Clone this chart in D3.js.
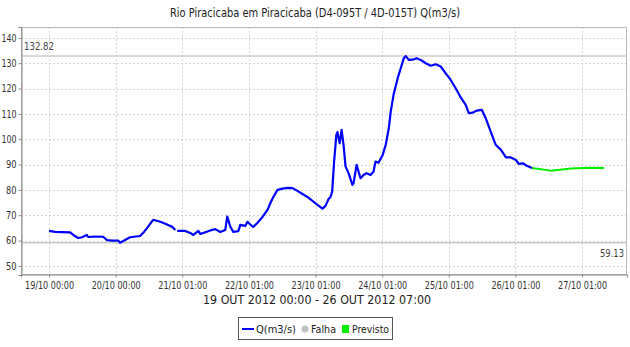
<!DOCTYPE html>
<html>
<head>
<meta charset="utf-8">
<script src="https://cdn.jsdelivr.net/npm/d3@7"></script>
<style>
  html, body { margin: 0; padding: 0; background: #fff; }
  svg { display: block; }
  text { font-family: "DejaVu Sans Condensed", "DejaVu Sans", sans-serif; font-stretch: condensed; }
</style>
</head>
<body>
<svg id="chart" width="630" height="347"></svg>
<script>
// Hours elapsed since 19/10/2012 00:00 and observed discharge Q (m3/s).
// A null marks a missing reading (line break).
const obsHours = [0, 2.2, 4.7, 7.6, 9.0, 10.5, 11.9, 13.6, 14.1, 16.6, 19.5, 20.9, 22.7, 24.9, 25.6,
  27.4, 29.2, 32.8, 34.3, 35.7, 37.5, 40.1, 41.9, 44.4, 45.5, 45.9, 46.2, 49.1, 50.9, 52.0, 53.8,
  54.5, 56.3, 58.1, 59.9, 61.7, 63.5, 64.2, 65.3, 66.4, 68.2, 68.9, 70.7, 71.5, 72.5, 73.6, 75.1,
  76.9, 78.7, 79.8, 80.8, 82.3, 84.1, 85.9, 87.7, 89.5, 91.3, 93.1, 94.9, 96.7, 97.8, 98.5, 99.6,
  100.7, 101.4, 102.0, 102.7, 103.5, 103.9, 104.7, 105.4, 106.1, 106.8, 107.9, 109.3, 109.7, 110.8,
  111.5, 112.2, 113.3, 114.4, 115.8, 116.9, 117.6, 118.7, 120.2, 121.3, 122.4, 123.1, 124.1, 125.6,
  126.7, 127.8, 128.5, 129.6, 131.0, 132.4, 133.9, 135.7, 137.5, 139.3, 141.1, 142.9, 144.7, 146.5,
  148.3, 150.1, 151.2, 152.7, 154.1, 155.9, 157.3, 159.1, 160.9, 162.8, 164.6, 166.4, 168.2, 169.2,
  170.7, 172.1, 174];
const obsFlow = [63.8, 63.4, 63.3, 63.2, 62.0, 61.0, 61.3, 62.2, 61.4, 61.6, 61.5, 60.2, 60.0, 60.0, 59.13,
  60.2, 61.3, 61.8, 63.5, 65.5, 68.2, 67.4, 66.6, 65.4, 64.2, null, 63.8, 63.8, 63.0, 62.2, 63.8,
  62.6, 63.3, 64.0, 64.5, 63.4, 64.2, 69.5, 65.5, 63.4, 63.7, 66.2, 65.8, 67.4, 66.3, 65.4, 67.0,
  69.3, 72.1, 74.9, 77.2, 80.0, 80.5, 80.8, 80.7, 79.6, 78.4, 77.2, 75.7, 74.1, 73.2, 72.6, 73.7,
  76.4, 77.2, 79.3, 91.2, 101.7, 102.8, 98.4, 103.7, 97.8, 89.3, 86.6, 82.0, 82.6, 89.9,
  87.2, 84.6, 85.9, 86.6, 85.9, 87.2, 91.2, 90.7, 93.8, 97.8, 104.4, 110.9, 117.5, 124.1,
  128.0, 132.0, 132.82, 131.3, 131.4, 132.0, 131.3, 130.0, 129.0, 129.6, 128.7, 126.0, 123.4, 120.1,
  116.5, 113.6, 110.3, 110.5, 111.3, 111.6, 108.3, 103.0, 97.8, 95.8, 92.8, 92.8, 91.8, 90.3,
  90.5, 89.5, 88.6];

// Forecast ("Previsto") continuation.
const fcHours = [174, 180.8, 188.0, 195.2, 200];
const fcFlow = [88.6, 87.6, 88.4, 88.7, 88.6];

const yTicks = [50, 60, 70, 80, 90, 100, 110, 120, 130, 140];
const xTickHours = [0, 24, 48, 72, 96, 120, 144, 168, 192];
const xTickLabels = ["19/10 00:00", "20/10 00:00", "21/10 01:00", "22/10 01:00", "23/10 01:00",
  "24/10 01:00", "25/10 01:00", "26/10 01:00", "27/10 01:00"];

const maxValue = 132.82;
const minValue = 59.13;

const titleText = "Rio Piracicaba em Piracicaba (D4-095T / 4D-015T) Q(m3/s)";
const periodText = "19 OUT 2012 00:00 - 26 OUT 2012 07:00";
const legendItems = ["Q(m3/s)", "Falha", "Previsto"];

const svg = d3.select("#chart");
const plot = { left: 21, top: 27, right: 627, bottom: 275 };
const fontStack = "\"DejaVu Sans Condensed\", \"DejaVu Sans\", sans-serif";

const x = d3.scaleLinear().domain([-10.09, 208.2]).range([plot.left, plot.right]);
const y = d3.scaleLinear().domain([46.4, 144.3]).range([plot.bottom, plot.top]);

// Title
svg.append("text")
  .attr("x", 315).attr("y", 17)
  .attr("text-anchor", "middle")
  .attr("font-size", 12.5).attr("fill", "#222")
  .attr("textLength", 290).attr("lengthAdjust", "spacingAndGlyphs")
  .text(titleText);

// Grid lines
const grid = svg.append("g");
grid.selectAll("line.hy").data(yTicks).join("line")
  .attr("x1", plot.left).attr("x2", plot.right)
  .attr("y1", d => Math.round(y(d)) + 0.5).attr("y2", d => Math.round(y(d)) + 0.5)
  .attr("stroke", "#d4d4d4").attr("stroke-dasharray", "2,2");
grid.selectAll("line.vx").data(xTickHours).join("line")
  .attr("y1", plot.top).attr("y2", plot.bottom)
  .attr("x1", d => Math.round(x(d)) + 0.5).attr("x2", d => Math.round(x(d)) + 0.5)
  .attr("stroke", "#d4d4d4").attr("stroke-dasharray", "2,2");

// Plot outline
svg.append("rect")
  .attr("x", plot.left + 0.5).attr("y", plot.top + 0.5)
  .attr("width", plot.right - plot.left - 1).attr("height", plot.bottom - plot.top - 1)
  .attr("fill", "none").attr("stroke", "#b8b8b8");

// Max / min reference lines with their values
[maxValue, minValue].forEach(v => {
  svg.append("line")
    .attr("x1", plot.left).attr("x2", plot.right)
    .attr("y1", y(v)).attr("y2", y(v))
    .attr("stroke", "#cccccc").attr("stroke-width", 1.5);
});
svg.append("text")
  .attr("x", plot.left + 3).attr("y", y(maxValue) - 6)
  .attr("font-size", 10).attr("fill", "#444")
  .attr("textLength", 30).attr("lengthAdjust", "spacingAndGlyphs")
  .text(maxValue.toFixed(2));
svg.append("text")
  .attr("x", plot.right - 3).attr("y", y(minValue) + 14)
  .attr("text-anchor", "end")
  .attr("font-size", 10).attr("fill", "#444")
  .attr("textLength", 24).attr("lengthAdjust", "spacingAndGlyphs")
  .text(minValue.toFixed(2));

// Axes
const yAxis = d3.axisLeft(y).tickValues(yTicks).tickSize(3).tickPadding(2).tickFormat(d3.format("d"));
const yg = svg.append("g").attr("transform", `translate(${plot.left + 0.5},0)`).call(yAxis);
yg.select(".domain").attr("stroke", "#888");
yg.selectAll(".tick line").attr("stroke", "#888");
yg.selectAll(".tick text").attr("font-size", 10.5).attr("fill", "#333")
  .attr("font-family", fontStack)
  .attr("textLength", d => d >= 100 ? 15 : 10.5).attr("lengthAdjust", "spacingAndGlyphs");

const xAxis = d3.axisBottom(x).tickValues(xTickHours).tickSize(3).tickPadding(4)
  .tickFormat((d, i) => xTickLabels[i]);
const xg = svg.append("g").attr("transform", `translate(0,${plot.bottom - 0.5})`).call(xAxis);
xg.select(".domain").attr("stroke", "#888");
xg.selectAll(".tick line").attr("stroke", "#888");
xg.selectAll(".tick text").attr("font-size", 10).attr("fill", "#333")
  .attr("font-family", fontStack)
  .attr("textLength", 49).attr("lengthAdjust", "spacingAndGlyphs");

// Period label
svg.append("text")
  .attr("x", 317).attr("y", 304)
  .attr("text-anchor", "middle")
  .attr("font-size", 12).attr("fill", "#222")
  .attr("textLength", 228).attr("lengthAdjust", "spacingAndGlyphs")
  .text(periodText);

// Series lines
const obs = obsHours.map((h, i) => ({ h, v: obsFlow[i] }));
const fc = fcHours.map((h, i) => ({ h, v: fcFlow[i] }));
const line = d3.line().defined(d => d.v !== null).x(d => x(d.h)).y(d => y(d.v));

svg.append("path").datum(fc)
  .attr("d", line).attr("fill", "none")
  .attr("stroke", "#00ee00").attr("stroke-width", 2).attr("stroke-linejoin", "round");
svg.append("path").datum(obs)
  .attr("d", line).attr("fill", "none")
  .attr("stroke", "#0000ff").attr("stroke-width", 2.2).attr("stroke-linejoin", "round");

// Legend
const lg = svg.append("g");
lg.append("rect").attr("x", 238.5).attr("y", 317.5).attr("width", 154).attr("height", 22)
  .attr("fill", "#fff").attr("stroke", "#555");
lg.append("line").attr("x1", 242).attr("x2", 254).attr("y1", 329).attr("y2", 329)
  .attr("stroke", "#0000ff").attr("stroke-width", 2);
lg.append("text").attr("x", 256).attr("y", 333).attr("font-size", 11).attr("fill", "#222")
  .attr("textLength", 40).attr("lengthAdjust", "spacingAndGlyphs").text(legendItems[0]);
lg.append("circle").attr("cx", 305).attr("cy", 329).attr("r", 3.5).attr("fill", "#c0c0c0");
lg.append("text").attr("x", 311).attr("y", 333).attr("font-size", 11).attr("fill", "#222")
  .attr("textLength", 25).attr("lengthAdjust", "spacingAndGlyphs").text(legendItems[1]);
lg.append("rect").attr("x", 342).attr("y", 325).attr("width", 7).attr("height", 8).attr("fill", "#00ee00");
lg.append("text").attr("x", 352).attr("y", 333).attr("font-size", 11).attr("fill", "#222")
  .attr("textLength", 37).attr("lengthAdjust", "spacingAndGlyphs").text(legendItems[2]);
</script>
</body>
</html>
